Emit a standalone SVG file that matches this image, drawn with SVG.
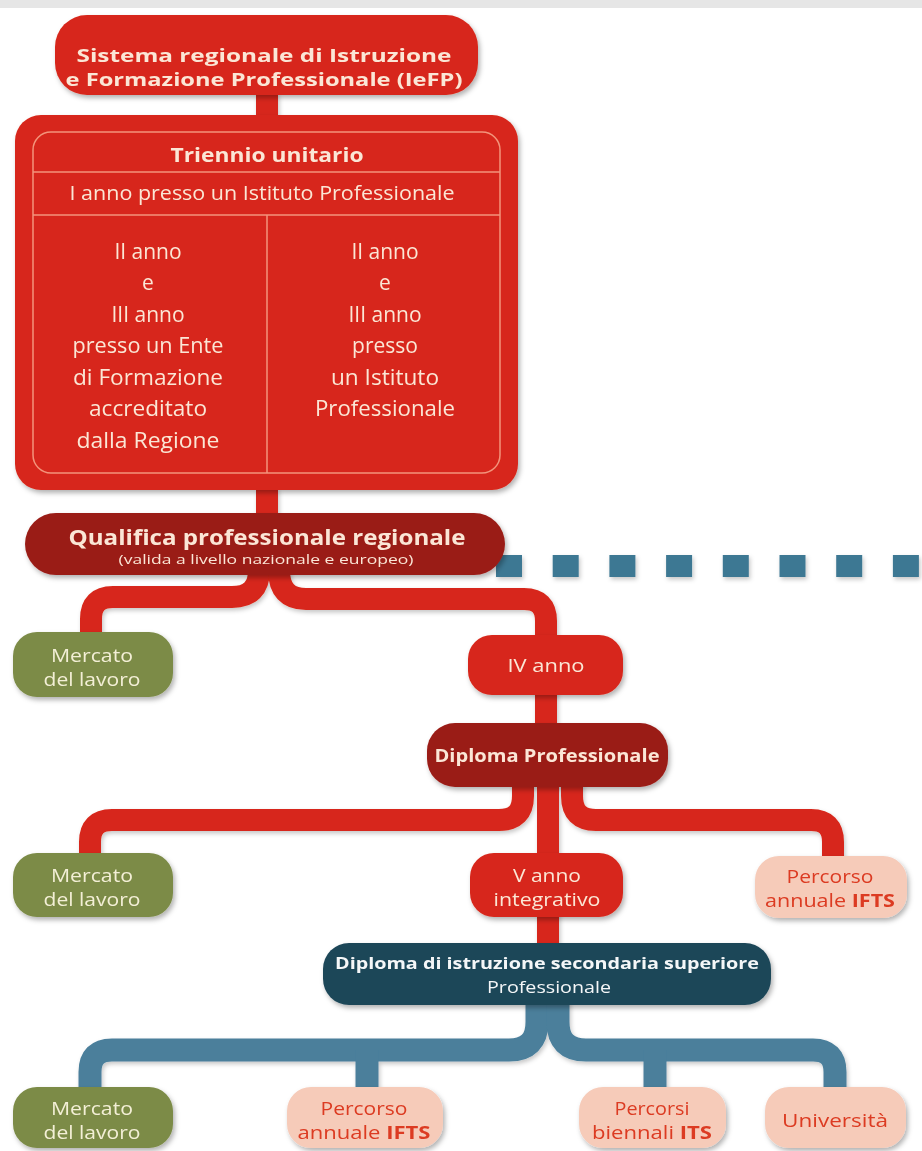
<svg xmlns="http://www.w3.org/2000/svg" width="922" height="1151" viewBox="0 0 922 1151">
<defs>
<filter id="sh" x="-20%" y="-20%" width="140%" height="150%">
<feDropShadow dx="2" dy="3" stdDeviation="2.5" flood-color="#000" flood-opacity="0.3"/>
</filter>
<filter id="shl" x="-20%" y="-20%" width="140%" height="150%">
<feDropShadow dx="1.5" dy="2.5" stdDeviation="2" flood-color="#000" flood-opacity="0.22"/>
</filter>
</defs>
<style>
text{font-family:"Open Sans","Liberation Sans",sans-serif;text-anchor:middle}
.red{fill:#d7281a}
.dred{fill:#9a1b16}
.green{fill:#7c8b47}
.pink{fill:#f6cbb9}
.teal{fill:#1f4759}
.tl{fill:#fbe6d6}
.tg{fill:#f3efd6}
.tp{fill:#dc3b22}
.tw{fill:#f4f7f8}
.b{font-weight:bold}
.cr{fill:none;stroke:#d7281a;stroke-width:22}
.cb{fill:none;stroke:#4b7f9b;stroke-width:23}
.inner{fill:none;stroke:#f3937c;stroke-width:1.5}
</style>
<rect x="0" y="0" width="922" height="1151" fill="#ffffff"/>
<rect x="0" y="0" width="922" height="8" fill="#e6e6e6"/>

<g id="connectors" filter="url(#shl)">
<path class="cr" d="M267 93 V118"/>
<path class="cr" d="M267 488 V516"/>
<path class="cr" stroke-width="20" d="M259 570 Q259 597 232 597 H113 Q91 597 91 619 V640"/>
<path class="cr" stroke-width="20" d="M279 570 Q279 599 306 599 H524 Q546 599 546 621 V640"/>
<path class="cr" stroke-width="21" d="M546 690 V728"/>
<path class="cr" stroke-width="20" d="M523 783 V796 Q523 820 499 820 H112 Q90 820 90 842 V860"/>
<path class="cr" stroke-width="21" d="M548 783 V948"/>
<path class="cr" stroke-width="20" d="M572 783 V796 Q572 820 596 820 H811 Q833 820 833 842 V862"/>
<path class="cb" d="M537 1000 V1022 Q537 1050 509 1050 H112 Q90 1050 90 1072 V1095"/>
<path class="cb" d="M558 1000 V1022 Q558 1050 586 1050 H813 Q835 1050 835 1072 V1095"/>
<path class="cb" d="M367 1050 V1095"/>
<path class="cb" d="M655 1050 V1095"/>
<path fill="none" stroke="#3e7893" stroke-width="22" stroke-dasharray="26 30.7" d="M496 566 H922"/>
</g>

<g id="n-iefp" filter="url(#sh)">
<rect class="red" x="55" y="15" width="423" height="80" rx="32"/>
<text class="tl b" x="264" y="62" font-size="18.5" textLength="375" lengthAdjust="spacingAndGlyphs">Sistema regionale di Istruzione</text>
<text class="tl b" x="264" y="86" font-size="18.5" textLength="397" lengthAdjust="spacingAndGlyphs">e Formazione Professionale (IeFP)</text>
</g>

<g id="n-triennio" filter="url(#sh)">
<rect class="red" x="15" y="115" width="503" height="375" rx="26"/>
<rect class="inner" x="33" y="132" width="467" height="341" rx="18"/>
<line class="inner" x1="33" y1="172" x2="500" y2="172"/>
<line class="inner" x1="33" y1="215" x2="500" y2="215"/>
<line class="inner" x1="267" y1="215" x2="267" y2="473"/>
<text class="tl b" x="267" y="162" font-size="20" textLength="193" lengthAdjust="spacingAndGlyphs">Triennio unitario</text>
<text class="tl" x="262" y="200" font-size="20" textLength="385" lengthAdjust="spacingAndGlyphs">I anno presso un Istituto Professionale</text>
<g font-size="21">
<text class="tl" x="148" y="259">II anno</text>
<text class="tl" x="148" y="290">e</text>
<text class="tl" x="148" y="322">III anno</text>
<text class="tl" x="148" y="353" textLength="151" lengthAdjust="spacingAndGlyphs">presso un Ente</text>
<text class="tl" x="148" y="385" textLength="150" lengthAdjust="spacingAndGlyphs">di Formazione</text>
<text class="tl" x="148" y="416" textLength="118" lengthAdjust="spacingAndGlyphs">accreditato</text>
<text class="tl" x="148" y="448" textLength="143" lengthAdjust="spacingAndGlyphs">dalla Regione</text>
<text class="tl" x="385" y="259">II anno</text>
<text class="tl" x="385" y="290">e</text>
<text class="tl" x="385" y="322">III anno</text>
<text class="tl" x="385" y="353">presso</text>
<text class="tl" x="385" y="385" textLength="108" lengthAdjust="spacingAndGlyphs">un Istituto</text>
<text class="tl" x="385" y="416" textLength="140" lengthAdjust="spacingAndGlyphs">Professionale</text>
</g>
</g>

<g id="n-qualifica" filter="url(#sh)">
<rect class="dred" x="25" y="513" width="480" height="62" rx="31"/>
<text class="tl b" x="267" y="545" font-size="21" textLength="397" lengthAdjust="spacingAndGlyphs">Qualifica professionale regionale</text>
<text class="tl" x="266" y="564" font-size="13" textLength="295" lengthAdjust="spacingAndGlyphs">(valida a livello nazionale e europeo)</text>
</g>

<g id="n-mercato1" filter="url(#sh)">
<rect class="green" x="13" y="632" width="160" height="65" rx="24"/>
<text class="tg" x="92" y="662" font-size="18" textLength="82" lengthAdjust="spacingAndGlyphs">Mercato</text>
<text class="tg" x="92" y="686" font-size="18" textLength="97" lengthAdjust="spacingAndGlyphs">del lavoro</text>
</g>

<g id="n-ivanno" filter="url(#sh)">
<rect class="red" x="468" y="635" width="155" height="60" rx="24"/>
<text class="tl" x="546" y="672" font-size="19" textLength="77" lengthAdjust="spacingAndGlyphs">IV anno</text>
</g>

<g id="n-diplomaprof" filter="url(#sh)">
<rect class="dred" x="427" y="723" width="241" height="64" rx="28"/>
<text class="tl b" x="547" y="762" font-size="17" textLength="225" lengthAdjust="spacingAndGlyphs">Diploma Professionale</text>
</g>

<g id="n-mercato2" filter="url(#sh)">
<rect class="green" x="13" y="853" width="160" height="64" rx="24"/>
<text class="tg" x="92" y="882" font-size="18" textLength="82" lengthAdjust="spacingAndGlyphs">Mercato</text>
<text class="tg" x="92" y="906" font-size="18" textLength="97" lengthAdjust="spacingAndGlyphs">del lavoro</text>
</g>

<g id="n-vanno" filter="url(#sh)">
<rect class="red" x="470" y="853" width="153" height="64" rx="24"/>
<text class="tl" x="547" y="882" font-size="18" textLength="68" lengthAdjust="spacingAndGlyphs">V anno</text>
<text class="tl" x="547" y="906" font-size="18" textLength="107" lengthAdjust="spacingAndGlyphs">integrativo</text>
</g>

<g id="n-ifts1" filter="url(#sh)">
<rect class="pink" x="755" y="856" width="152" height="62" rx="24"/>
<text class="tp" x="830" y="883" font-size="18" textLength="87" lengthAdjust="spacingAndGlyphs">Percorso</text>
<text class="tp" x="830" y="907" font-size="18" textLength="130" lengthAdjust="spacingAndGlyphs">annuale <tspan class="b">IFTS</tspan></text>
</g>

<g id="n-diplomasec" filter="url(#sh)">
<rect class="teal" x="323" y="943" width="448" height="62" rx="26"/>
<text class="tw b" x="547" y="969" font-size="16.5" textLength="424" lengthAdjust="spacingAndGlyphs">Diploma di istruzione secondaria superiore</text>
<text class="tw" x="549" y="993" font-size="15.5" textLength="124" lengthAdjust="spacingAndGlyphs">Professionale</text>
</g>

<g id="n-mercato3" filter="url(#sh)">
<rect class="green" x="13" y="1087" width="160" height="61" rx="24"/>
<text class="tg" x="92" y="1115" font-size="18" textLength="82" lengthAdjust="spacingAndGlyphs">Mercato</text>
<text class="tg" x="92" y="1139" font-size="18" textLength="97" lengthAdjust="spacingAndGlyphs">del lavoro</text>
</g>

<g id="n-ifts2" filter="url(#sh)">
<rect class="pink" x="287" y="1087" width="156" height="61" rx="24"/>
<text class="tp" x="364" y="1115" font-size="18" textLength="87" lengthAdjust="spacingAndGlyphs">Percorso</text>
<text class="tp" x="364" y="1139" font-size="18" textLength="133" lengthAdjust="spacingAndGlyphs">annuale <tspan class="b">IFTS</tspan></text>
</g>

<g id="n-its" filter="url(#sh)">
<rect class="pink" x="579" y="1087" width="147" height="61" rx="24"/>
<text class="tp" x="652" y="1115" font-size="18" textLength="75" lengthAdjust="spacingAndGlyphs">Percorsi</text>
<text class="tp" x="652" y="1139" font-size="18" textLength="120" lengthAdjust="spacingAndGlyphs">biennali <tspan class="b">ITS</tspan></text>
</g>

<g id="n-universita" filter="url(#sh)">
<rect class="pink" x="765" y="1087" width="141" height="61" rx="24"/>
<text class="tp" x="835" y="1127" font-size="18" textLength="106" lengthAdjust="spacingAndGlyphs">Università</text>
</g>
</svg>
